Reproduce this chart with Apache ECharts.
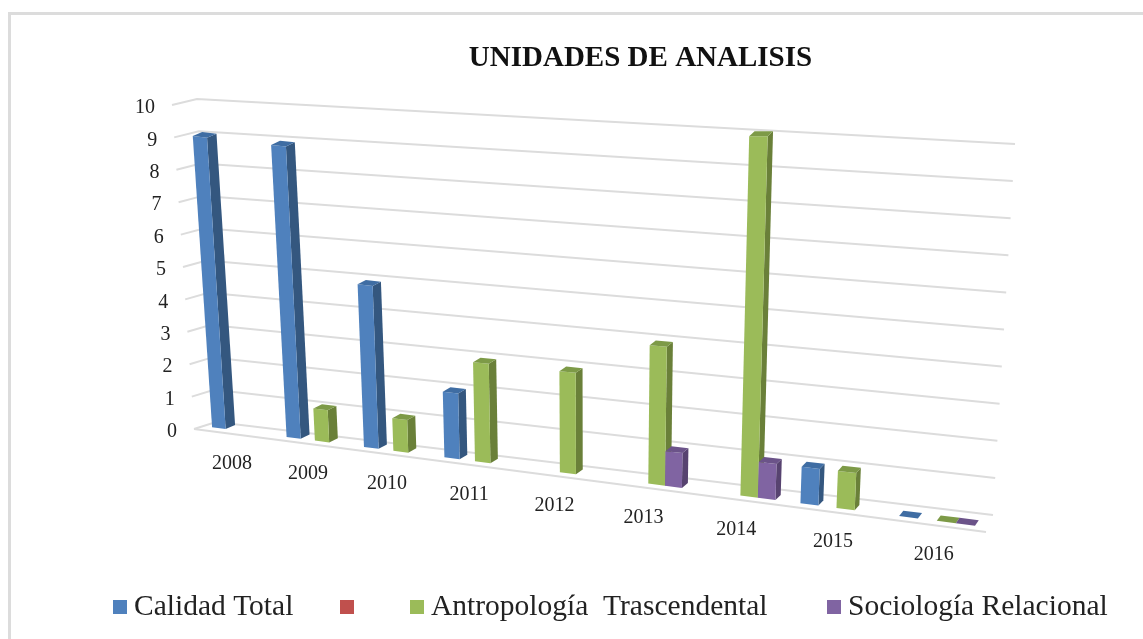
<!DOCTYPE html>
<html>
<head>
<meta charset="utf-8">
<style>html,body{margin:0;padding:0;background:#fff}#c{width:1143px;height:639px}</style>
<script src="https://cdn.jsdelivr.net/npm/echarts@6/dist/echarts.min.js"></script>
</head>
<body>
<div id="c"></div>
<script>
var categories = ['2008','2009','2010','2011','2012','2013','2014','2015','2016'];
var calidadTotal = [9, 9, 5, 2, null, null, null, 1, 0];
var sinNombre = [null, null, null, null, null, null, null, null, null];
var antropologia = [null, 1, 1, 3, 3, 4, 10, 1, 0];
var sociologia = [null, null, null, null, null, 1, 1, null, 0];
var yTicks = [0, 1, 2, 3, 4, 5, 6, 7, 8, 9, 10];
var titleText = 'UNIDADES DE ANALISIS';
var legendNames = ['Calidad Total', '\u00a0', 'Antropolog\u00eda  Trascendental', 'Sociolog\u00eda Relacional'];

var FONT = '"Liberation Serif","Times New Roman",serif';
var GL = 194, GW = 792, GT = 106, GH = 323;
var K = 1.2, SLOT_START = 0.13, SLOT = 0.185;

function persp(u) { return u / (u + K * (1 - u)); }
function norm(p) { return { u: (p[0] - GL) / GW, v: (GT + GH - p[1]) / GH * 10 }; }

function barPoint(n) {
  var f = persp(n.u);
  var x = 202.6 + 786 * f;
  var y = 425 + 0.129 * (x - 194);
  return [x + (-2.2 + 4.5 * f) * n.v, y - (32 + 7.5 * f * f + 0.04 * n.v) * n.v, f];
}
function slotRender(slot, front, side, top) {
  return function (params, api) {
    var i = api.value(0), val = api.value(1);
    var a = i + SLOT_START + slot * SLOT, b = a + SLOT;
    var a0 = norm(api.coord([a, 0])), b0 = norm(api.coord([b, 0]));
    var a1 = norm(api.coord([a, val])), b1 = norm(api.coord([b, val]));
    var A0 = barPoint(a0), B0 = barPoint(b0), A1 = barPoint(a1), B1 = barPoint(b1);
    var dx = 9.5 - 6 * A0[2], dy = -(4 + 1.5 * A0[2]);
    var kids = [];
    if (val > 0) {
      kids.push({ type: 'polygon', shape: { points: [[B0[0], B0[1]], [B0[0] + dx, B0[1] + dy], [B1[0] + dx, B1[1] + dy], [B1[0], B1[1]]] }, style: { fill: side } });
      kids.push({ type: 'polygon', shape: { points: [[A0[0], A0[1]], [B0[0], B0[1]], [B1[0], B1[1]], [A1[0], A1[1]]] }, style: { fill: front } });
    }
    kids.push({ type: 'polygon', shape: { points: [[A1[0], A1[1]], [B1[0], B1[1]], [B1[0] + dx, B1[1] + dy], [A1[0] + dx, A1[1] + dy]] }, style: { fill: top } });
    return { type: 'group', children: kids };
  };
}
function rows(arr) {
  var out = [];
  arr.forEach(function (v, i) { if (v !== null) out.push([i, v]); });
  return out;
}
function wallRender(params, api) {
  var v = api.value(0);
  var s = norm(api.coord([0, v])).v;
  var pts = [
    [172 + 2.2 * (10 - s), 429 - 32.4 * s],
    [216 - 1.9 * s, 422 - 32.3 * s],
    [993 + 2.2 * s, 515 - 37.1 * s]
  ];
  var kids = [{ type: 'polyline', shape: { points: pts }, style: { stroke: '#dcdcdc', lineWidth: 2, fill: 'none' } }];
  if (v === 0) {
    kids.push({ type: 'polyline', shape: { points: [pts[0], [986, 532]] }, style: { stroke: '#dcdcdc', lineWidth: 2, fill: 'none' } });
  }
  kids.push({ type: 'text', style: { text: String(v), x: pts[0][0] - 17, y: pts[0][1] + 3, align: 'right', verticalAlign: 'middle', font: '20px ' + FONT, fill: '#222' } });
  return { type: 'group', children: kids };
}
function catRender(params, api) {
  var i = api.value(0);
  var n = norm(api.coord([i + 0.5, 0]));
  var f = persp(n.u);
  return { type: 'text', style: { text: categories[i], x: 195 + 791 * f, y: 429 + 103 * f + 30, align: 'center', verticalAlign: 'middle', font: '20px ' + FONT, fill: '#222' } };
}
function custom(name, color, slot, side, top, arr) {
  return { name: name, type: 'custom', coordinateSystem: 'cartesian2d', silent: true, z: 5 + slot,
    itemStyle: { color: color }, encode: { x: 0, y: 1 },
    renderItem: slotRender(slot, color, side, top), data: rows(arr) };
}
function legendAt(left, name) {
  return { left: left, top: 587, itemWidth: 14, itemHeight: 14, selectedMode: false, icon: 'rect',
    textStyle: { fontFamily: FONT, fontSize: 29.5, color: '#222', padding: [0, 0, 0, 2] }, data: [name] };
}

var chart = echarts.init(document.getElementById('c'), null, { renderer: 'canvas' });
chart.setOption({
  animation: false,
  backgroundColor: '#fff',
  title: { text: titleText, left: 635.5, top: 39, textAlign: 'center',
    textStyle: { fontFamily: FONT, fontWeight: 'bold', fontSize: 29, color: '#111' } },
  grid: { left: GL, width: GW, top: GT, height: GH },
  xAxis: { type: 'value', min: 0, max: 9, show: false },
  yAxis: { type: 'value', min: 0, max: 10, interval: 1, show: false },
  legend: [legendAt(108, legendNames[0]), legendAt(335, legendNames[1]), legendAt(405, legendNames[2]), legendAt(822, legendNames[3])],
  graphic: [{ type: 'rect', silent: true, z: -1,
    shape: { x: 9.5, y: 13.5, width: 1300, height: 800 },
    style: { fill: 'none', stroke: '#dcdcdc', lineWidth: 3 } }],
  series: [
    { name: '_wall', type: 'custom', coordinateSystem: 'cartesian2d', silent: true, z: 1,
      renderItem: wallRender, encode: { x: 1, y: 0 }, data: yTicks.map(function (v) { return [v, 0]; }) },
    { name: '_cats', type: 'custom', coordinateSystem: 'cartesian2d', silent: true, z: 2,
      renderItem: catRender, encode: { x: 0 }, data: categories.map(function (c, i) { return [i, 0]; }) },
    custom(legendNames[0], '#4f81bd', 0, '#34577f', '#3f6da3', calidadTotal),
    custom(legendNames[1], '#c0504d', 1, '#8c3836', '#a34340', sinNombre),
    custom(legendNames[2], '#9bbb59', 2, '#6a8039', '#7d9a47', antropologia),
    custom(legendNames[3], '#8064a2', 3, '#574370', '#6b5389', sociologia)
  ]
});
</script>
</body>
</html>
